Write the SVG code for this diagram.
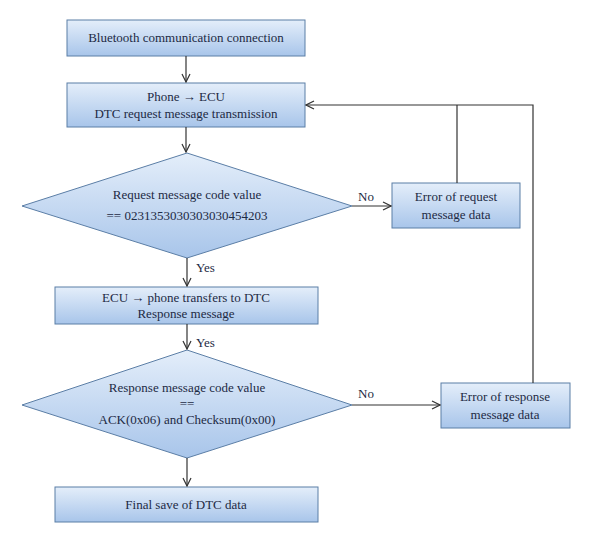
<svg xmlns="http://www.w3.org/2000/svg" width="600" height="540" viewBox="0 0 600 540">
<defs>
<linearGradient id="g" x1="0" y1="0" x2="0" y2="1"><stop offset="0" stop-color="#e4eefa"/><stop offset="1" stop-color="#a8c5ea"/></linearGradient>
<marker id="a" markerWidth="10" markerHeight="10" refX="9" refY="5" orient="auto" markerUnits="userSpaceOnUse"><path d="M1,1 L9,5 L1,9" fill="none" stroke="#333" stroke-width="1.2"/></marker>
</defs>
<style>
.n{fill:url(#g);stroke:#5b7ea6;stroke-width:1}
text{font-family:"Liberation Serif",serif;font-size:13px;fill:#1d2a44;text-anchor:middle}
.l{text-anchor:start}
.c{fill:none;stroke:#333;stroke-width:1.2}
</style>
<rect width="600" height="540" fill="#fff"/>
<g id="n1"><rect class="n" x="67" y="20" width="238" height="36"/><text x="186" y="42">Bluetooth communication connection</text></g>
<g id="n2"><rect class="n" x="67" y="83" width="238" height="44"/><text x="186" y="101">Phone → ECU</text><text x="186" y="118">DTC request message transmission</text></g>
<g id="d1"><polygon class="n" points="187,153 352,206 187,258 22,206"/><text x="187" y="199">Request message code value</text><text x="187" y="220">== 0231353030303030454203</text></g>
<g id="e1"><rect class="n" x="392" y="183" width="128" height="45"/><text x="456" y="201">Error of request</text><text x="456" y="219">message data</text></g>
<g id="n3"><rect class="n" x="55" y="287" width="263" height="37"/><text x="186" y="302">ECU → phone transfers to DTC</text><text x="186" y="318">Response message</text></g>
<g id="d2"><polygon class="n" points="187,350 352,405 187,458 22,405"/><text x="187" y="392">Response message code value</text><text x="187" y="408">==</text><text x="187" y="424">ACK(0x06) and Checksum(0x00)</text></g>
<g id="e2"><rect class="n" x="441" y="383" width="129" height="45"/><text x="505" y="401">Error of response</text><text x="505" y="419">message data</text></g>
<g id="n4"><rect class="n" x="55" y="487" width="263" height="35"/><text x="186" y="509">Final save of DTC data</text></g>
<g id="connectors">
<line class="c" x1="186" y1="56" x2="186" y2="82" marker-end="url(#a)"/>
<line class="c" x1="186" y1="127" x2="186" y2="152" marker-end="url(#a)"/>
<line class="c" x1="187" y1="258" x2="187" y2="286" marker-end="url(#a)"/>
<line class="c" x1="187" y1="324" x2="187" y2="349" marker-end="url(#a)"/>
<line class="c" x1="187" y1="458" x2="187" y2="486" marker-end="url(#a)"/>
<line class="c" x1="352" y1="206" x2="391" y2="206" marker-end="url(#a)"/>
<line class="c" x1="352" y1="405" x2="440" y2="405" marker-end="url(#a)"/>
<polyline class="c" points="457,183 457,105"/>
<polyline class="c" points="533,383 533,105 306,105" marker-end="url(#a)"/>
<text class="l" x="358" y="201">No</text>
<text class="l" x="358" y="398">No</text>
<text class="l" x="196" y="272">Yes</text>
<text class="l" x="196" y="347">Yes</text>
</g>
</svg>
